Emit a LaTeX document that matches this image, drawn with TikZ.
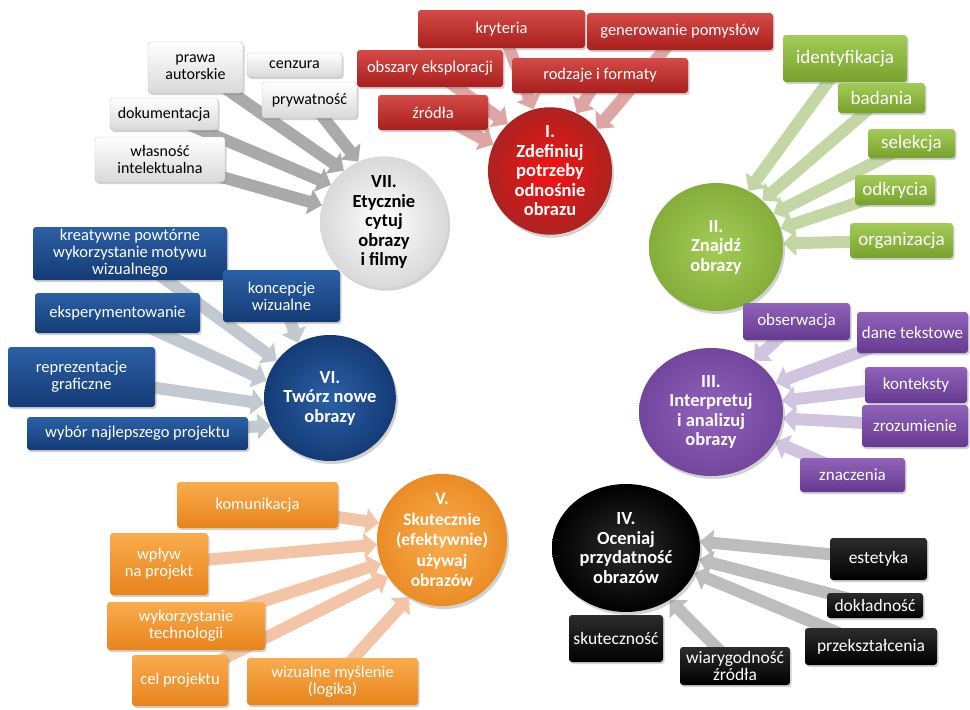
\documentclass[tikz,border=0pt]{standalone}
\usepackage{fontspec}
\setmainfont{Carlito}
\usetikzlibrary{arrows.meta,shadows,shapes.geometric,backgrounds}
\definecolor{redT}{HTML}{D44A46}\definecolor{redB}{HTML}{A81F1D}
\definecolor{grnT}{HTML}{A3CC57}\definecolor{grnB}{HTML}{77A12D}
\definecolor{purT}{HTML}{9062BA}\definecolor{purB}{HTML}{673A92}
\definecolor{blkT}{HTML}{2C2C2C}\definecolor{blkB}{HTML}{000000}
\definecolor{orgT}{HTML}{F9AC4E}\definecolor{orgB}{HTML}{E7841C}
\definecolor{bluT}{HTML}{2B60A6}\definecolor{bluB}{HTML}{143B76}
\definecolor{whtB}{HTML}{D9D9D9}
\definecolor{redA}{HTML}{DDA6A4}\definecolor{grnA}{HTML}{C3D6A4}
\definecolor{purA}{HTML}{D0C4DF}\definecolor{blkA}{HTML}{BDBDBD}
\definecolor{orgA}{HTML}{F3C4A5}\definecolor{bluA}{HTML}{C3C9D1}
\definecolor{whtA}{HTML}{AAAAAA}
\begin{document}
\begin{tikzpicture}[x=1pt,y=-1pt,
  sz/.style 2 args={minimum width=#1pt, minimum height=#2pt},
  fs/.style={font=\fontsize{#1}{17}\selectfont},
  box/.style={rounded corners=3pt, align=center, inner sep=1pt,
    drop shadow={opacity=0.35,shadow xshift=1.5pt,shadow yshift=-2pt}},
  rbox/.style={box, fs=16.5, top color=redT, bottom color=redB, text=white},
  gbox/.style={box, fs=19, top color=grnT, bottom color=grnB, text=white},
  pbox/.style={box, fs=17, top color=purT, bottom color=purB, text=white},
  kbox/.style={box, fs=17.5, top color=blkT, bottom color=blkB, text=white},
  obox/.style={box, fs=16.5, top color=orgT, bottom color=orgB, text=white},
  bbox/.style={box, fs=16.5, top color=bluT, bottom color=bluB, text=white},
  wbox/.style={box, fs=16, top color=white, bottom color=whtB, draw=gray!45, text=black},
  circ/.style={ellipse, inner sep=0pt, align=center,
    font=\bfseries\fontsize{18.5}{19.5}\selectfont,
    drop shadow={opacity=0.35,shadow xshift=2pt,shadow yshift=-3pt}},
  arr/.style={draw=#1, line width=12pt, -{Triangle[length=13pt,width=25pt]}}
]
\path[use as bounding box] (0,0) rectangle (970,710);

% circles
\node[circ, sz={124}{116}, inner color=red!75!redT, outer color=redB!90!redT, text=white] (c1) at (550,171) {I.\\Zdefiniuj\\potrzeby\\odnośnie\\obrazu};
\node[circ, sz={134}{128}, inner color=grnT, outer color=grnB!70!grnT, text=white] (c2) at (716,247) {II.\\Znajdź\\obrazy};
\node[circ, sz={144}{128}, inner color=purT, outer color=purB!70!purT, text=white] (c3) at (711,412) {III.\\Interpretuj\\i analizuj\\obrazy};
\node[circ, sz={148}{128}, inner color=blkT, outer color=blkB, text=white] (c4) at (626,548) {IV.\\Oceniaj\\przydatność\\obrazów};
\node[circ, sz={128}{124}, inner color=orgT, outer color=orgB!80!orgT, text=white, font=\bfseries\fontsize{17.5}{20.5}\selectfont] (c5) at (442,540) {V.\\Skutecznie\\(efektywnie)\\używaj\\obrazów};
\node[circ, sz={130}{126}, inner color=bluT, outer color=bluB, text=white] (c6) at (330,398) {VI.\\Twórz nowe\\obrazy};
\node[circ, sz={128}{116}, inner color=white, outer color=whtB, text=black] (c7) at (384,222) {VII.\\Etycznie\\cytuj\\obrazy\\i filmy};

% red boxes
\node[rbox, sz={167}{38}] (kryt) at (501.5,29) {kryteria};
\node[rbox, sz={186}{37}] (gen) at (680,31.5) {generowanie pomysłów};
\node[rbox, sz={146}{37}] (obsz) at (430,68.5) {obszary eksploracji};
\node[rbox, sz={176}{35}] (rodz) at (600,75.5) {rodzaje i formaty};
\node[rbox, sz={110}{35}] (zrod) at (433,112.5) {źródła};

% green boxes
\node[gbox, sz={124}{47}] (ident) at (845,58.5) {identyfikacja};
\node[gbox, sz={87}{30}] (bad) at (881.5,98) {badania};
\node[gbox, sz={87}{29}] (sel) at (911.5,143.5) {selekcja};
\node[gbox, sz={80}{30}] (odk) at (895,190) {odkrycia};
\node[gbox, sz={103}{35}] (org) at (901.5,240.5) {organizacja};

% purple boxes
\node[pbox, sz={107}{37}] (obs) at (796.5,321.5) {obserwacja};
\node[pbox, sz={111}{41}] (dane) at (912.5,332.5) {dane tekstowe};
\node[pbox, sz={102}{36}] (kont) at (916,385) {konteksty};
\node[pbox, sz={106}{42}] (zroz) at (915,426) {zrozumienie};
\node[pbox, sz={105}{34}] (znacz) at (852.5,475) {znaczenia};

% black boxes
\node[kbox, sz={97}{42}] (est) at (878.5,559) {estetyka};
\node[kbox, sz={96}{25}] (dok) at (875,605.5) {dokładność};
\node[kbox, sz={132}{37}] (prz) at (871,646.5) {przekształcenia};
\node[kbox, sz={94}{47}] (skut) at (616,638.5) {skuteczność};
\node[kbox, sz={110}{38}] (wiar) at (735,666) {wiarygodność\\źródła};

% orange boxes
\node[obox, sz={161}{46}] (kom) at (257.5,505) {komunikacja};
\node[obox, sz={98}{62}] (wpl) at (159,564) {wpływ\\na projekt};
\node[obox, sz={158}{48}] (wyk) at (186,626) {wykorzystanie\\technologii};
\node[obox, sz={96}{51}] (cel) at (180,680.5) {cel projektu};
\node[obox, sz={171}{47}] (wiz) at (332.5,681.5) {wizualne myślenie\\(logika)};

% blue boxes
\node[bbox, sz={194}{53}] (kre) at (130,253.5) {kreatywne powtórne\\wykorzystanie motywu\\wizualnego};
\node[bbox, sz={117}{52}] (konc) at (281.5,296) {koncepcje\\wizualne};
\node[bbox, sz={165}{40}] (eksp) at (117.5,313) {eksperymentowanie};
\node[bbox, sz={147}{60}] (repr) at (81.5,377) {reprezentacje\\graficzne};
\node[bbox, sz={221}{33}] (wyb) at (137.5,433.5) {wybór najlepszego projektu};

% white boxes
\node[wbox, sz={95}{51}] (praw) at (195.5,67.5) {prawa\\autorskie};
\node[wbox, sz={95}{24}] (cenz) at (294.5,65) {cenzura};
\node[wbox, sz={95}{36}] (pryw) at (309.5,100) {prywatność};
\node[wbox, sz={108}{32}] (dok2) at (164,114) {dokumentacja};
\node[wbox, sz={130}{45}] (wlas) at (160,159.5) {własność\\intelektualna};

\begin{scope}[on background layer]
\fill[white] (0,0) rectangle (970,710);
% red
\draw[arr=redA] (zrod.center) -- (c1.155);
\draw[arr=redA] (obsz.center) -- (c1.132);
\draw[arr=redA] (kryt.center) -- (c1.105);
\draw[arr=redA] (rodz.center) -- (c1.65);
\draw[arr=redA] (gen.center) -- (c1.42);
% green
\draw[arr=grnA] (ident.center) -- (c2.60);
\draw[arr=grnA] (bad.center) -- (c2.45);
\draw[arr=grnA] (sel.center) -- (c2.30);
\draw[arr=grnA] (odk.center) -- (c2.16);
\draw[arr=grnA] (org.center) -- (c2.3);
% purple
\draw[arr=purA] (obs.center) -- (c3.50);
\draw[arr=purA] (dane.center) -- (c3.24);
\draw[arr=purA] (kont.center) -- (c3.9);
\draw[arr=purA] (zroz.center) -- (c3.-5);
\draw[arr=purA] (znacz.center) -- (c3.-25);
% black
\draw[arr=blkA] (est.center) -- (c4.5);
\draw[arr=blkA] (dok.center) -- (c4.-9);
\draw[arr=blkA] (prz.center) -- (c4.-20);
\draw[arr=blkA] (wiar.center) -- (c4.-50);
% orange
\draw[arr=orgA] (kom.center) -- (c5.165);
\draw[arr=orgA] (wpl.center) -- (c5.184);
\draw[arr=orgA] (wyk.center) -- (c5.201);
\draw[arr=orgA] (cel.center) -- (c5.214);
\draw[arr=orgA] (wiz.center) -- (c5.240);
% blue
\draw[arr=bluA] (kre.center) -- (c6.145);
\draw[arr=bluA] (konc.center) -- (c6.120);
\draw[arr=bluA] (eksp.center) -- (c6.165);
\draw[arr=bluA] (repr.center) -- (c6.185);
\draw[arr=bluA] (wyb.center) -- (c6.205);
% white
\draw[arr=whtA] (praw.center) -- (c7.128);
\draw[arr=whtA] (pryw.center) -- (c7.113);
\draw[arr=whtA] (dok2.center) -- (c7.145);
\draw[arr=whtA] (wlas.center) -- (c7.165);
\end{scope}
\end{tikzpicture}
\end{document}
